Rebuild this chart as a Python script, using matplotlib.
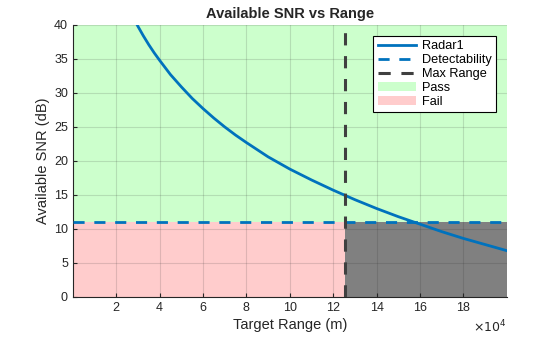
# available SNR vs target range with pass/fail regions
import numpy as np
import matplotlib.pyplot as plt

plt.rcParams['font.family'] = ['Liberation Sans', 'DejaVu Sans']

# range samples (m) and the available SNR (dB) at each one
target_range = np.array([2.8, 3, 3.25, 3.5, 3.75, 4, 4.5, 5, 5.5, 6, 6.5, 7,
                         7.5, 8, 9, 10, 11, 12, 13, 14, 15, 16, 17, 18, 19,
                         20]) * 1e4
snr_db = np.array([41.0, 39.8, 38.4, 37.1, 35.9, 34.8, 32.7, 30.9, 29.2, 27.7,
                   26.3, 25.0, 23.8, 22.7, 20.6, 18.8, 17.2, 15.7, 14.3, 13.0,
                   11.8, 10.7, 9.6, 8.6, 7.7, 6.8])

detectability_db = 11.0
max_range = 1.255e5
x_limits = [0, 2e5]
y_limits = [0, 40]
x_ticks = np.arange(2, 20, 2) * 1e4
y_ticks = np.arange(0, 45, 5)

blue = '#0072BD'

fig = plt.figure(figsize=(5.6, 3.37), dpi=100)
ax = fig.add_axes([0.13, 0.119, 0.775, 0.807])

# shaded regions
ax.fill_between(x_limits, detectability_db, y_limits[1], color='#ccffcc',
                lw=0, label='Pass', zorder=0)
ax.fill_between([x_limits[0], max_range], 0, detectability_db, color='#ffcccc',
                lw=0, label='Fail', zorder=0)
ax.fill_between([max_range, x_limits[1]], 0, detectability_db, color='#808080',
                lw=0, zorder=0)

ax.plot(target_range, snr_db, color=blue, lw=2, label='Radar1', zorder=3)
ax.axhline(detectability_db, color=blue, lw=2, ls=(0, (4, 3.5)),
           label='Detectability', zorder=3)
ax.axvline(max_range, color='#404040', lw=2.2, ls=(0, (4, 3.5)),
           label='Max Range', zorder=3)

ax.set_xlim(x_limits)
ax.set_ylim(y_limits)
ax.set_xticks(x_ticks)
ax.set_xticklabels([f'{v / 1e4:g}' for v in x_ticks])
ax.set_yticks(y_ticks)
ax.grid(True, color='#262626', alpha=0.15, lw=0.8)
ax.set_axisbelow(False)
ax.tick_params(direction='in', labelsize=9, colors='#262626', length=3)
for side in ['top', 'right']:
    ax.spines[side].set_visible(False)
for side in ['left', 'bottom']:
    ax.spines[side].set_color('#262626')

ax.set_xlabel('Target Range (m)', fontsize=10.5, color='#262626', labelpad=3)
ax.set_ylabel('Available SNR (dB)', fontsize=10.5, color='#262626', labelpad=3)
ax.set_title('Available SNR vs Range', fontsize=10.5, fontweight='bold',
             color='#262626', pad=5)
ax.text(1.0, -0.11, r'$\times10^{4}$', transform=ax.transAxes, ha='right',
        va='center', fontsize=9, color='#262626')

handles, labels = ax.get_legend_handles_labels()
order = ['Radar1', 'Detectability', 'Max Range', 'Pass', 'Fail']
hmap = dict(zip(labels, handles))
leg = ax.legend([hmap[k] for k in order], order, loc='upper right',
                bbox_to_anchor=(0.975, 0.96), fontsize=9.2, fancybox=False,
                framealpha=1, edgecolor='black', borderpad=0.35,
                labelspacing=0.15, handlelength=3.0, handletextpad=0.45,
                borderaxespad=0)
leg.get_frame().set_linewidth(0.8)

fig.savefig('out.png', dpi=100)
